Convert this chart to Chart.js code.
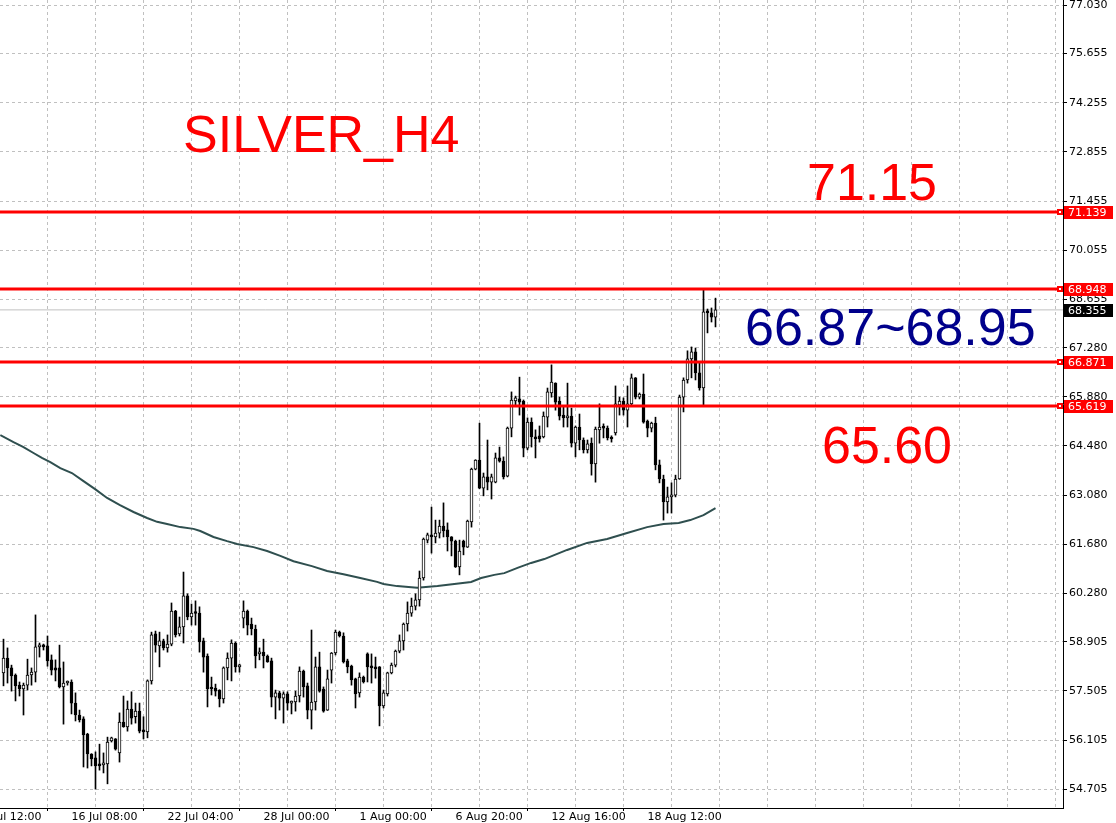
<!DOCTYPE html>
<html>
<head>
<meta charset="utf-8">
<title>SILVER_H4</title>
<script src="https://cdn.jsdelivr.net/npm/chart.js"></script>
<style>
  html, body { margin: 0; padding: 0; background: #fff; overflow: hidden; }
  #wrap { width: 1116px; height: 823px; }
</style>
</head>
<body>
<div id="wrap"><canvas id="graph" width="1116" height="823"></canvas></div>
<script>
// H4 candles (bar index 0 = leftmost candle)
const open = [
  58.02, 58.44, 58.16, 57.96, 57.67, 57.56, 57.67, 57.96, 58.04, 58.76,
  58.79, 58.79, 58.39, 58.16, 58.16, 57.62, 57.73, 57.76, 57.16, 56.82,
  56.71, 56.28, 55.71, 55.60, 55.43, 55.40, 55.43, 56.08, 56.14, 55.74,
  56.62, 56.48, 56.99, 56.77, 56.93, 56.39, 56.34, 57.79, 59.13, 58.79,
  58.93, 58.73, 58.84, 59.78, 59.13, 59.33, 60.21, 59.61, 59.72, 59.72,
  58.93, 58.50, 57.59, 57.59, 57.53, 57.28, 58.16, 58.44, 58.87, 58.19,
  59.58, 59.78, 59.41, 59.27, 58.56, 58.61, 58.50, 58.36, 57.33, 57.45,
  57.30, 57.42, 57.16, 57.19, 57.36, 58.07, 57.65, 56.96, 57.19, 58.19,
  57.56, 56.96, 58.10, 58.59, 59.18, 59.07, 58.36, 58.21, 57.85, 57.45,
  57.90, 58.56, 58.19, 58.19, 58.19, 57.08, 57.42, 58.02, 58.24, 58.64,
  58.93, 59.41, 59.72, 59.92, 60.10, 60.72, 61.80, 61.95, 61.89, 62.00,
  62.20, 62.09, 61.89, 61.77, 61.04, 61.77, 61.60, 62.32, 63.82, 64.08,
  63.28, 63.60, 63.45, 63.45, 64.14, 64.05, 63.62, 64.99, 65.76, 65.82,
  65.76, 64.42, 65.16, 64.74, 64.77, 64.74, 65.30, 65.99, 66.27, 65.76,
  65.36, 65.28, 65.33, 64.56, 65.02, 64.65, 64.37, 64.56, 63.97, 64.94,
  65.02, 64.99, 64.71, 64.85, 65.65, 65.76, 65.50, 65.68, 66.42, 65.87,
  65.96, 65.19, 64.99, 65.13, 63.94, 63.54, 62.89, 63.03, 63.08, 63.54,
  65.87, 66.36, 66.96, 67.16, 66.56, 66.13, 68.30, 68.27, 68.15
];
const high = [
  58.98, 58.73, 58.24, 57.99, 57.76, 57.73, 58.41, 58.16, 59.67, 58.87,
  58.84, 59.07, 58.53, 58.39, 58.81, 58.33, 57.79, 57.82, 57.45, 56.96,
  56.77, 56.30, 55.72, 55.77, 55.99, 55.74, 56.19, 56.19, 56.15, 56.88,
  57.36, 57.22, 57.48, 57.16, 57.16, 56.77, 57.82, 59.18, 59.21, 59.18,
  58.98, 59.10, 60.01, 59.80, 59.61, 60.89, 60.27, 59.98, 60.07, 59.90,
  59.01, 58.56, 57.90, 57.70, 57.54, 58.19, 58.59, 58.96, 58.90, 58.27,
  60.07, 59.81, 59.58, 59.38, 58.73, 58.98, 58.53, 58.44, 57.53, 57.50,
  57.48, 57.48, 57.22, 57.50, 58.19, 58.10, 57.73, 59.24, 58.47, 58.61,
  57.62, 58.10, 58.60, 59.24, 59.21, 59.16, 58.41, 58.24, 57.87, 58.02,
  57.93, 58.59, 58.56, 58.47, 58.20, 57.53, 58.04, 58.30, 58.67, 59.10,
  59.44, 60.04, 60.15, 60.27, 60.92, 61.86, 62.00, 62.74, 62.37, 62.37,
  62.86, 62.29, 61.90, 61.80, 61.80, 61.80, 62.37, 63.85, 64.09, 65.13,
  63.71, 64.65, 63.68, 64.28, 64.45, 64.17, 65.02, 66.02, 65.90, 66.44,
  65.79, 65.28, 65.28, 64.94, 65.05, 65.45, 66.13, 66.79, 66.28, 65.87,
  65.59, 66.27, 65.56, 65.05, 65.39, 64.71, 64.65, 64.71, 65.02, 65.68,
  65.11, 65.05, 64.77, 66.19, 65.87, 65.85, 66.19, 66.53, 66.43, 65.99,
  66.53, 65.22, 65.16, 65.30, 64.08, 63.65, 63.31, 63.43, 63.65, 65.93,
  66.42, 67.19, 67.30, 67.27, 66.84, 68.95, 68.38, 68.41, 68.69
];
const low = [
  57.65, 57.73, 57.50, 57.22, 57.36, 56.82, 57.53, 57.67, 57.76, 58.47,
  58.67, 58.21, 57.96, 57.79, 57.59, 56.56, 57.67, 56.85, 56.65, 56.62,
  55.34, 55.31, 55.37, 54.71, 55.25, 55.17, 54.86, 56.05, 55.82, 55.48,
  56.47, 56.36, 56.56, 56.59, 56.31, 56.14, 56.17, 57.70, 58.61, 58.19,
  58.67, 58.61, 58.79, 59.04, 59.07, 58.87, 59.53, 59.38, 59.38, 58.61,
  58.04, 57.05, 57.39, 57.36, 57.05, 57.16, 57.82, 57.79, 58.04, 58.04,
  59.30, 59.10, 59.10, 58.16, 58.39, 58.16, 58.32, 57.05, 56.71, 56.96,
  56.59, 56.96, 56.85, 56.93, 57.19, 57.33, 56.71, 56.42, 56.96, 57.47,
  56.90, 56.95, 57.73, 58.53, 59.04, 58.30, 58.02, 57.67, 57.02, 57.33,
  57.73, 57.76, 57.73, 57.87, 56.51, 57.02, 57.36, 57.99, 58.19, 58.59,
  58.67, 59.21, 59.63, 59.81, 59.92, 60.66, 61.72, 61.43, 61.72, 61.86,
  61.89, 61.49, 61.35, 61.02, 60.81, 61.38, 61.59, 62.17, 63.80, 63.26,
  63.06, 63.23, 62.97, 63.43, 64.02, 63.54, 63.60, 64.74, 65.62, 65.36,
  64.17, 64.37, 64.45, 64.14, 64.59, 64.71, 65.02, 65.87, 65.50, 65.22,
  65.02, 65.02, 64.45, 64.17, 64.37, 64.28, 64.28, 63.65, 63.45, 64.56,
  64.71, 64.65, 64.59, 64.79, 65.36, 65.36, 65.02, 65.65, 65.82, 65.82,
  65.13, 64.74, 64.88, 63.80, 63.43, 62.37, 62.57, 62.57, 63.03, 63.53,
  65.45, 66.27, 66.42, 66.36, 66.07, 65.62, 67.70, 68.01, 67.87
];
const close = [
  58.44, 58.16, 57.93, 57.65, 57.56, 57.67, 57.96, 58.04, 58.76, 58.79,
  58.76, 58.36, 58.10, 58.10, 57.62, 57.73, 57.76, 57.16, 56.82, 56.68,
  56.25, 55.71, 55.57, 55.37, 55.37, 55.43, 56.05, 56.17, 55.85, 56.62,
  56.49, 56.99, 56.73, 56.93, 56.36, 56.34, 57.79, 59.10, 58.81, 58.93,
  58.73, 58.84, 59.78, 59.10, 59.33, 60.21, 59.61, 59.72, 59.71, 58.90,
  58.47, 57.56, 57.56, 57.50, 57.28, 58.16, 58.44, 58.87, 58.19, 58.21,
  59.78, 59.38, 59.27, 58.50, 58.61, 58.50, 58.33, 57.33, 57.45, 57.30,
  57.42, 57.16, 57.19, 57.36, 58.07, 57.62, 56.96, 57.19, 58.19, 57.50,
  56.93, 57.85, 58.58, 59.18, 59.07, 58.33, 58.19, 57.82, 57.42, 57.90,
  57.76, 58.19, 58.16, 58.13, 57.08, 57.45, 58.02, 58.24, 58.64, 58.93,
  59.41, 59.72, 59.92, 60.10, 60.72, 61.83, 61.95, 61.89, 62.00, 62.20,
  62.06, 61.89, 61.77, 61.04, 61.49, 61.60, 62.34, 63.82, 64.08, 63.28,
  63.60, 63.45, 63.60, 64.14, 64.05, 63.60, 64.99, 65.79, 65.85, 65.73,
  64.42, 65.16, 64.74, 64.68, 64.68, 65.33, 66.02, 66.30, 65.73, 65.33,
  65.28, 65.33, 64.56, 65.02, 64.65, 64.37, 64.54, 63.97, 64.96, 65.02,
  64.99, 64.71, 64.68, 65.68, 65.76, 65.50, 65.68, 66.42, 65.87, 65.96,
  65.16, 64.99, 65.13, 63.94, 63.54, 62.89, 63.03, 63.08, 63.54, 65.87,
  66.36, 66.96, 67.16, 66.56, 66.13, 68.30, 68.27, 68.15, 68.36
];

// moving average, sampled along the dark line (bar index / price)
const maIdx = [-0.8, 2.5, 5, 7.5, 9.6, 11.7, 14.2, 17.1, 20, 22.9, 25.9, 29, 32.5, 35.9, 38.4,
  40.9, 44.2, 47.5, 49.2, 52.5, 55.9, 58.4, 62.5, 65.9, 69.2, 72.5, 77.1, 80.9, 85, 89.2,
  93.4, 95, 98.4, 103.4, 108.5, 112.7, 116.9, 119.4, 122.7, 125.2, 128.5, 131.9, 135.2,
  140.9, 145.9, 150.9, 155.9, 160.9, 165, 168.8, 171.7, 175, 178];
const maVal = [64.79, 64.59, 64.45, 64.28, 64.14, 64.02, 63.85, 63.71, 63.48, 63.25, 63.00, 62.80, 62.60, 62.43, 62.32,
  62.26, 62.17, 62.12, 62.06, 61.89, 61.77, 61.69, 61.60, 61.49, 61.35, 61.20, 61.06, 60.92, 60.83, 60.72,
  60.61, 60.55, 60.49, 60.44, 60.49, 60.55, 60.61, 60.72, 60.81, 60.86, 61.01, 61.15, 61.26,
  61.52, 61.72, 61.83, 62.00, 62.17, 62.26, 62.29, 62.37, 62.51, 62.71];

const levels = [71.139, 68.948, 66.871, 65.619]; // red horizontal lines
const bid = 68.355;

const yTicks = [77.030, 75.655, 74.255, 72.855, 71.455, 70.055, 68.655, 67.280, 65.880,
  64.480, 63.080, 61.680, 60.280, 58.905, 57.505, 56.105, 54.705];
const xLabelIdx = [-7, 17, 41, 65, 89, 113, 137, 161];
const xLabels = ['10 Jul 12:00', '16 Jul 08:00', '22 Jul 04:00', '28 Jul 00:00',
  '1 Aug 00:00', '6 Aug 20:00', '12 Aug 16:00', '18 Aug 12:00'];

const X_MIN = -0.875, X_MAX = 264.875; // 4px per bar
const FONT = '"Liberation Sans", Arial, sans-serif';
const AXIS_FONT = '"DejaVu Sans", Verdana, sans-serif';

// grid every 12 bars, label every 24
const xGrid = [];
for (let v = xLabelIdx[0]; v <= X_MAX; v += 12) xGrid.push(v);
const xText = v => { const k = xLabelIdx.indexOf(v); return k < 0 ? '' : xLabels[k]; };

const wicks = close.map((c, i) => ({ x: i, y: [low[i], high[i]] }));
const bodies = close.map((c, i) => ({ x: i, y: [Math.min(open[i], c), Math.max(open[i], c)] }));
const bodyFill = close.map((c, i) => c >= open[i] ? '#ffffff' : '#000000');

const hline = (v, color, width, order) => ({
  type: 'line',
  data: [{ x: X_MIN, y: v }, { x: X_MAX, y: v }],
  borderColor: color, borderWidth: width, pointRadius: 0, order: order
});

// no extra room for labels that hang over the plot edges
const noPad = s => { s.paddingLeft = 0; s.paddingRight = 0; s.paddingTop = 0; s.paddingBottom = 0; };

const overlay = {
  id: 'overlay',
  afterDraw(chart) {
    const { ctx, scales: { y } } = chart;
    ctx.save();
    ctx.font = '11px ' + AXIS_FONT;
    ctx.textBaseline = 'middle';
    const box = (v, bg) => {
      const py = Math.round(y.getPixelForValue(v));
      ctx.fillStyle = bg;
      ctx.fillRect(1064, py - 6, 49, 13);
      ctx.fillStyle = '#fff';
      ctx.fillText(v.toFixed(3), 1068, py + 1);
    };
    levels.forEach(v => {
      const py = Math.round(y.getPixelForValue(v));
      ctx.fillStyle = '#ff0000';
      ctx.fillRect(1057, py - 3, 6, 6);
      ctx.fillStyle = '#fff';
      ctx.fillRect(1059, py - 1, 2, 2);
      box(v, '#ff0000');
    });
    box(bid, '#000000');

    ctx.textBaseline = 'alphabetic';
    ctx.font = '52px ' + FONT;
    ctx.fillStyle = '#ff0000';
    ctx.fillText('SILVER_H4', 183, 152, 281);
    ctx.fillText('71.15', 807, 200, 130);
    ctx.fillText('65.60', 822, 463, 130);
    ctx.fillStyle = '#00008b';
    ctx.fillText('66.87~68.95', 745, 345, 292);
    ctx.restore();
  }
};

const config = {
  type: 'bar',
  data: {
    datasets: [
      ...levels.map(v => hline(v, '#ff0000', 3, 0)),
      {
        label: 'bodies', data: bodies, grouped: false, barThickness: 3,
        backgroundColor: bodyFill, borderColor: '#000', borderWidth: 1,
        borderSkipped: false, minBarLength: 2, order: 1
      },
      {
        label: 'wicks', data: wicks, grouped: false, barThickness: 1,
        backgroundColor: '#000', borderWidth: 0, order: 2
      },
      {
        type: 'line', label: 'MA',
        data: maIdx.map((x, k) => ({ x: x, y: maVal[k] })),
        borderColor: '#2f4f4f', borderWidth: 2, pointRadius: 0, tension: 0, order: 3
      },
      hline(bid, '#c0c0c0', 1, 4)
    ]
  },
  options: {
    responsive: false,
    animation: false,
    events: [],
    layout: { padding: 0 },
    plugins: { legend: { display: false }, tooltip: { enabled: false } },
    scales: {
      x: {
        type: 'linear', min: X_MIN, max: X_MAX, offset: false,
        afterBuildTicks: s => { s.ticks = xGrid.map(v => ({ value: v })); },
        afterFit: s => { s.height = 15; noPad(s); },
        ticks: {
          autoSkip: false, maxRotation: 0, minRotation: 0, align: 'start', padding: 0,
          color: '#000', font: { family: AXIS_FONT, size: 11 },
          callback: v => xText(v)
        },
        grid: {
          color: '#c0c0c0', tickLength: 3,
          tickColor: c => (c.tick && xText(c.tick.value)) ? '#000' : 'rgba(0,0,0,0)'
        },
        border: { color: '#000', width: 1, dash: [3, 3] }
      },
      y: {
        position: 'right', min: 54.172, max: 77.179,
        afterBuildTicks: s => { s.ticks = yTicks.map(v => ({ value: v })); },
        afterFit: s => { s.width = 53; noPad(s); },
        ticks: {
          autoSkip: false, padding: 2, crossAlign: 'near',
          color: '#000', font: { family: AXIS_FONT, size: 11 },
          callback: v => Number(v).toFixed(3)
        },
        grid: { color: '#c0c0c0', tickLength: 4, tickColor: '#000' },
        border: { color: '#000', width: 1, dash: [3, 3] }
      }
    }
  },
  plugins: [overlay]
};

const chart = new Chart(document.getElementById('graph'), config);
</script>
</body>
</html>
